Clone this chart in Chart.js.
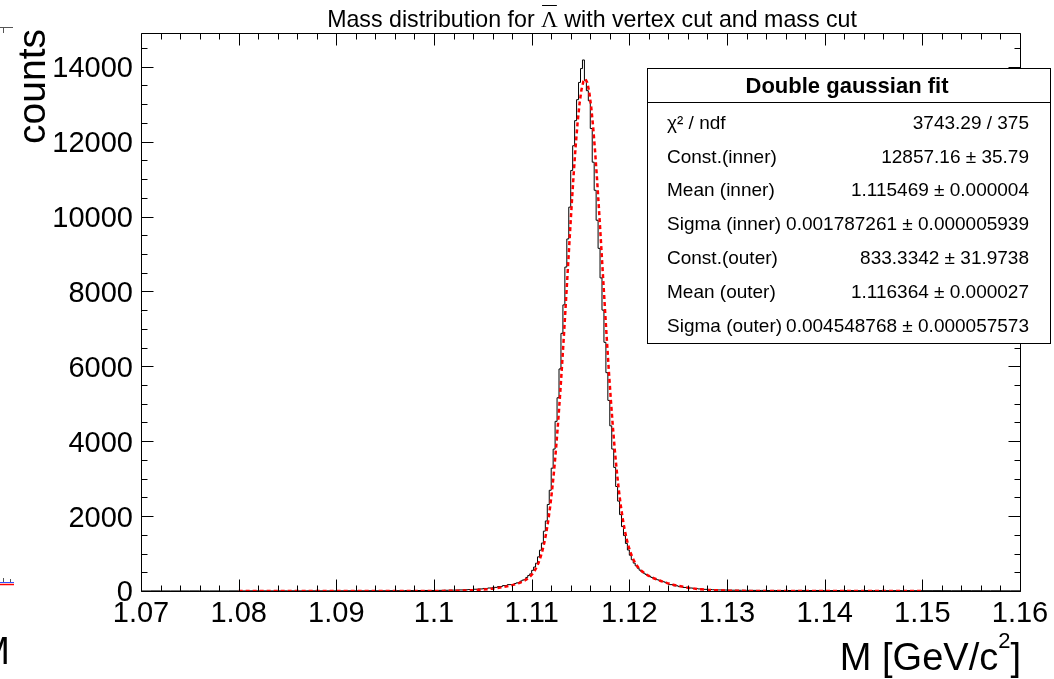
<!DOCTYPE html>
<html><head><meta charset="utf-8">
<script src="https://cdn.jsdelivr.net/npm/chart.js@4.4.1/dist/chart.umd.min.js"></script>
<style>html,body{margin:0;padding:0;background:#fff;overflow:hidden}canvas{display:block}</style>
</head><body>
<canvas id="c" width="1054" height="679"></canvas>
<script>
// ---------- data ----------
const xTickValues = [1.07, 1.08, 1.09, 1.10, 1.11, 1.12, 1.13, 1.14, 1.15, 1.16];
const xTickLabels = ["1.07", "1.08", "1.09", "1.1", "1.11", "1.12", "1.13", "1.14", "1.15", "1.16"];
const yTickValues = [0, 2000, 4000, 6000, 8000, 10000, 12000, 14000];
const yTickLabels = ["0", "2000", "4000", "6000", "8000", "10000", "12000", "14000"];

// histogram binning segments: [start, bin width]
const histSegments = [[1.070, 0.001], [1.100, 0.0005], [1.108, 0.0002], [1.124, 0.0005], [1.136, 0.001]];
const histLeftTail = [2,1,3,2,1,2,3,1,2,2, 3,2,4,3,2,3,4,3,5,4, 4,5,6,5,7,6,8,9,11,13];
const histLowSide = [14,12,17,19,22,24,28,33,40,47,55,68,80,97,118,144];
const histCore = [170,171,199,216,228,262,290,309,362,415,
  458,552,640,742,912,1090,1280,1598,1870,2310,
  2690,3280,3790,4530,5160,5930,6880,7640,8650,9400,
  10250,11230,11890,12560,13120,13580,13950,14180,13630,13360,
  13090,12350,11450,10700,9900,9150,8360,7500,6640,5830,
  5090,4410,3790,3300,2790,2400,2040,1720,1480,1270,
  1095,955,835,745,672,610,556,512,478,444,
  412,389,362,340,322,300,283,262,248,232];
const histHighSide = [198,170,139,117,95,80,66,55,44,38,33,28,26,22,21,19,18,17,16,15,16,14,15,13];
const histRightTail = [14,13,15,12,14,11,13,12,10,12,11,9,10,11,8,9,10,8,7,9,8,6,7,5];

// double gaussian fit curve (read at core bin centres + tails)
const fitCore = [163,177,193,211,232,255,283,316,355,404,
  464,539,633,750,895,1075,1295,1563,1884,2266,
  2713,3229,3817,4474,5200,5985,6821,7692,8580,9466,
  10325,11133,11866,12500,13013,13388,13611,13674,13575,13318,
  12912,12373,11719,10973,10159,9301,8424,7549,6698,5885,
  5126,4428,3799,3240,2750,2328,1969,1668,1417,1211,
  1043,906,796,707,634,575,525,484,448,417,
  390,364,341,320,299,280,261,244,227,211];
const fitLowX = [1.080, 1.085, 1.090, 1.095, 1.098, 1.100, 1.102, 1.103, 1.104, 1.105, 1.106, 1.107, 1.1075, 1.1078];
const fitLowY = [0, 0, 0, 0, 0.2, 1.3, 5.7, 11.1, 20.7, 36.8, 62.2, 100.1, 125, 143];
const fitHighX = [1.1245, 1.125, 1.126, 1.127, 1.128, 1.129, 1.130, 1.132, 1.135, 1.140, 1.145, 1.150];
const fitHighY = [168.3, 137.4, 88.4, 54.1, 31.6, 17.6, 9.3, 2.3, 0.2, 0, 0, 0];

const statsTitle = "Double gaussian fit";
const statsLabels = ["\u03C7\u00B2 / ndf", "Const.(inner)", "Mean (inner)", "Sigma (inner)", "Const.(outer)", "Mean (outer)", "Sigma (outer)"];
const statsValues = ["3743.29 / 375", "12857.16 \u00B1 35.79", "1.115469 \u00B1 0.000004", "0.001787261 \u00B1 0.000005939", "833.3342 \u00B1 31.9738", "1.116364 \u00B1 0.000027", "0.004548768 \u00B1 0.000057573"];

// ---------- build datasets ----------
const histCounts = [histLeftTail, histLowSide, histCore, histHighSide, histRightTail];
const histPoints = [];
histSegments.forEach((seg, s) => {
  histCounts[s].forEach((c, i) => histPoints.push({x: +(seg[0] + seg[1] * i).toFixed(6), y: c}));
});
histPoints.push({x: 1.16, y: histPoints[histPoints.length - 1].y});

const fitPoints = [];
fitLowX.forEach((v, i) => fitPoints.push({x: v, y: fitLowY[i]}));
const coreSeg = histSegments[2];
fitCore.forEach((v, i) => fitPoints.push({x: +(coreSeg[0] + coreSeg[1] * (i + 0.5)).toFixed(6), y: v}));
fitHighX.forEach((v, i) => fitPoints.push({x: v, y: fitHighY[i]}));

const SANS = '"Liberation Sans", Arial, Helvetica, sans-serif';
const SERIF = '"Liberation Serif", "Times New Roman", serif';

const rootPlugin = {
  id: 'rootStyle',
  afterDatasetsDraw(chart) {
    const {ctx, chartArea: a, scales: {x, y}} = chart;
    ctx.save();
    ctx.strokeStyle = '#000';
    ctx.lineWidth = 1;
    const L = Math.round(a.left) + 0.5, R = Math.round(a.right) + 0.5;
    const T = Math.round(a.top) + 0.5, B = Math.round(a.bottom) + 0.5;
    ctx.beginPath();
    ctx.rect(L, T, R - L, B - T);
    ctx.stroke();

    // x ticks (major + 4 minor subdivisions), inward on bottom and top
    ctx.beginPath();
    xTickValues.forEach((v, i) => {
      const px = Math.round(x.getPixelForValue(v)) + 0.5;
      ctx.moveTo(px, B); ctx.lineTo(px, B - 12);
      ctx.moveTo(px, T); ctx.lineTo(px, T + 12);
      if (i < xTickValues.length - 1) {
        const step = (xTickValues[i + 1] - v) / 5;
        for (let j = 1; j < 5; j++) {
          const mx = Math.round(x.getPixelForValue(v + step * j)) + 0.5;
          ctx.moveTo(mx, B); ctx.lineTo(mx, B - 6);
          ctx.moveTo(mx, T); ctx.lineTo(mx, T + 6);
        }
      }
    });
    // y ticks (major + 3 minor), inward on left and right
    const ystep = (yTickValues[1] - yTickValues[0]) / 4;
    for (let v = 0; v <= y.max; v += ystep) {
      const major = yTickValues.includes(v);
      const len = major ? 12 : 6;
      const py = Math.round(y.getPixelForValue(v)) + 0.5;
      ctx.moveTo(L, py); ctx.lineTo(L + len, py);
      ctx.moveTo(R, py); ctx.lineTo(R - len, py);
    }
    ctx.stroke();

    // tick labels
    ctx.fillStyle = '#000';
    ctx.font = '29px ' + SANS;
    ctx.textBaseline = 'alphabetic';
    ctx.textAlign = 'right';
    yTickValues.forEach((v, i) => {
      ctx.fillText(yTickLabels[i], 133, y.getPixelForValue(v) + 10.4);
    });
    ctx.textAlign = 'center';
    xTickValues.forEach((v, i) => {
      ctx.fillText(xTickLabels[i], x.getPixelForValue(v), 622);
    });

    // y axis title
    ctx.save();
    ctx.font = '39px ' + SANS;
    ctx.translate(45, 29);
    ctx.rotate(-Math.PI / 2);
    ctx.textAlign = 'right';
    ctx.fillText('counts', 0, 0);
    ctx.restore();

    // x axis title  M [GeV/c^2]
    ctx.textAlign = 'left';
    ctx.font = '38px ' + SANS;
    const p1 = 'M [GeV/c', p3 = ']';
    const w1 = ctx.measureText(p1).width, w3 = ctx.measureText(p3).width;
    ctx.font = '22px ' + SANS;
    const w2 = ctx.measureText('2').width;
    let sx = 1021 - (w1 + w2 + w3);
    ctx.font = '38px ' + SANS;
    ctx.fillText(p1, sx, 670);
    ctx.font = '22px ' + SANS;
    ctx.fillText('2', sx + w1, 648);
    ctx.font = '38px ' + SANS;
    ctx.fillText(p3, sx + w1 + w2, 670);

    // title with overlined Lambda
    const t1 = 'Mass distribution for ', t2 = '\u039B', t3 = ' with vertex cut and mass cut';
    const TF = '23.2px ';
    ctx.font = TF + SANS;
    const tw1 = ctx.measureText(t1).width, tw3 = ctx.measureText(t3).width;
    ctx.font = TF + SERIF;
    const tw2 = ctx.measureText(t2).width;
    let tx = 592 - (tw1 + tw2 + tw3) / 2;
    ctx.font = TF + SANS;
    ctx.fillText(t1, tx, 27);
    ctx.font = TF + SERIF;
    ctx.fillText(t2, tx + tw1, 27);
    ctx.beginPath();
    ctx.moveTo(tx + tw1 + 1, 5.5); ctx.lineTo(tx + tw1 + tw2 - 1, 5.5);
    ctx.stroke();
    ctx.font = TF + SANS;
    ctx.fillText(t3, tx + tw1 + tw2, 27);

    // neighbouring-pad remnants at the left edge
    ctx.strokeStyle = '#555';
    ctx.beginPath();
    ctx.moveTo(0, 27.5); ctx.lineTo(13, 27.5);
    ctx.moveTo(3.5, 27.5); ctx.lineTo(3.5, 33);
    ctx.moveTo(3.5, 578); ctx.lineTo(3.5, 583);
    ctx.moveTo(10.5, 579); ctx.lineTo(10.5, 583);
    ctx.stroke();
    ctx.strokeStyle = '#3050ff';
    ctx.beginPath(); ctx.moveTo(0, 582.5); ctx.lineTo(14, 582.5); ctx.stroke();
    ctx.strokeStyle = '#ff0000'; ctx.lineWidth = 1.5;
    ctx.beginPath(); ctx.moveTo(0, 584.5); ctx.lineTo(14, 584.5); ctx.stroke();
    ctx.fillStyle = '#000';
    ctx.font = '38px ' + SANS;
    ctx.textAlign = 'right';
    ctx.fillText('M', 10, 664);
    ctx.restore();
  },
  afterDraw(chart) {
    const ctx = chart.ctx;
    ctx.save();
    // stats box
    const bx = 647.5, by = 68.5, bw = 403, bh = 275;
    ctx.fillStyle = '#fff';
    ctx.fillRect(bx, by, bw, bh);
    ctx.strokeStyle = '#000';
    ctx.lineWidth = 1;
    ctx.strokeRect(bx, by, bw, bh);
    ctx.beginPath(); ctx.moveTo(bx, 102.5); ctx.lineTo(bx + bw, 102.5); ctx.stroke();
    ctx.fillStyle = '#000';
    ctx.font = 'bold 22px ' + SANS;
    ctx.textAlign = 'center';
    ctx.textBaseline = 'alphabetic';
    ctx.fillText(statsTitle, 847, 93);
    ctx.font = '19px ' + SANS;
    statsLabels.forEach((lab, i) => {
      const cy = 122 + 33.8 * i + 6.8;
      ctx.textAlign = 'left';
      ctx.fillText(lab, 667, cy);
      ctx.textAlign = 'right';
      ctx.fillText(statsValues[i], 1029, cy);
    });
    ctx.restore();
  }
};

new Chart(document.getElementById('c').getContext('2d'), {
  type: 'line',
  data: {
    datasets: [
      {label: 'Double gaussian fit', data: fitPoints, borderColor: '#ff0000', borderWidth: 2.5,
       borderDash: [4, 3], pointRadius: 0, tension: 0, fill: false, order: 0},
      {label: 'Mass', data: histPoints, borderColor: '#000000', borderWidth: 1, stepped: 'after',
       pointRadius: 0, fill: false, order: 1}
    ]
  },
  options: {
    responsive: false,
    animation: false,
    devicePixelRatio: 1,
    layout: {padding: {left: 141, right: 34, top: 33, bottom: 88}},
    plugins: {legend: {display: false}, tooltip: {enabled: false}, title: {display: false}},
    scales: {
      x: {type: 'linear', min: 1.07, max: 1.16, display: false},
      y: {type: 'linear', min: 0, max: 14900, display: false}
    }
  },
  plugins: [rootPlugin]
});
</script>
</body></html>
